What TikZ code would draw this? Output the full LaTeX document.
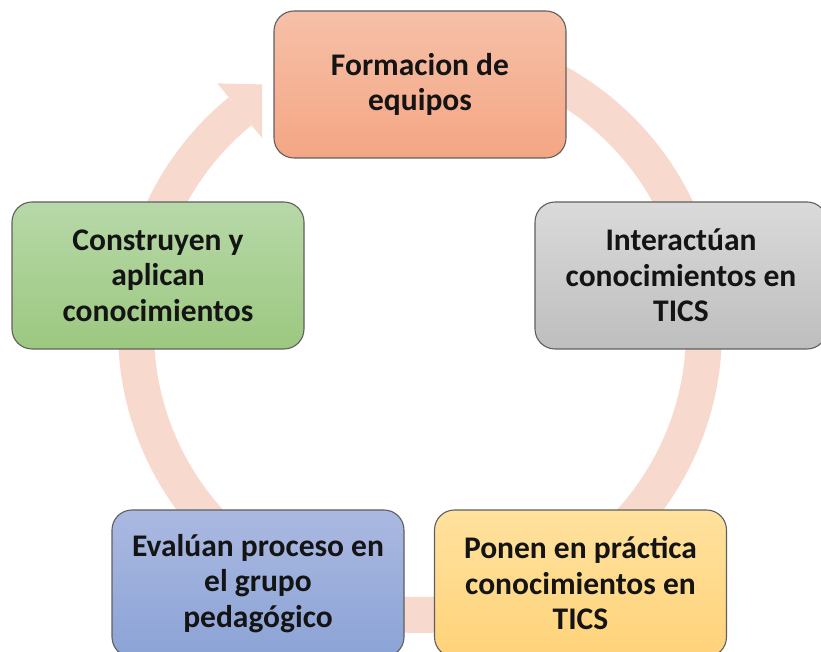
\documentclass[tikz,border=0pt]{standalone}
\usepackage{fontspec}
\setmainfont{Carlito}
\usetikzlibrary{calc}
\definecolor{ink}{RGB}{20,20,20}
\definecolor{edge}{RGB}{95,95,95}
\definecolor{ringpink}{RGB}{248,217,206}
\definecolor{orangetop}{RGB}{246,192,168}
\definecolor{orangebot}{RGB}{244,166,132}
\definecolor{greytop}{RGB}{218,218,218}
\definecolor{greybot}{RGB}{190,190,190}
\definecolor{greentop}{RGB}{183,216,168}
\definecolor{greenbot}{RGB}{156,200,128}
\definecolor{bluetop}{RGB}{171,185,225}
\definecolor{bluebot}{RGB}{139,163,214}
\definecolor{yellowtop}{RGB}{255,226,158}
\definecolor{yellowbot}{RGB}{255,210,122}
\tikzset{
  every picture/.style={x=1pt, y=1pt},
  box/.style={draw=edge, line width=1.1pt, rounded corners=20pt, minimum width=292pt,
    minimum height=147pt, align=center, text=ink, inner sep=0pt,
    font=\fontsize{31.5}{35.5}\selectfont\bfseries},
  fase/.style 2 args={box, top color=#1, bottom color=#2},
  ring/.style={draw=ringpink, line width=36pt},
  ringhead/.style={fill=ringpink, draw=none},
}

\begin{document}
\begin{tikzpicture}
  \useasboundingbox (0,0) rectangle (821,652);
  % the pale ring runs clockwise behind the boxes and ends in an arrow
  % pointing at the first step
  \coordinate (mid) at (420,321);
  \draw[ring] ($(mid)+(90:284)$) arc[start angle=90, end angle=-230.7, radius=284];
  \begin{scope}
    \clip (0,0) rectangle (262,652);
    \fill[ringhead] ($(mid)+(129.3:320)$) -- ($(mid)+(129.3:284)+(39.3:42)$)
      -- ($(mid)+(129.3:248)$) -- cycle;
  \end{scope}
  \node[fase={orangetop}{orangebot}] (form) at (420,567.5) {Formacion de\\equipos};
  \node[fase={greytop}{greybot}] (inter) at (681,376.5) {Interactúan\\conocimientos en\\TICS};
  \node[fase={yellowtop}{yellowbot}] (practica) at (580.5,68.5) {Ponen en práctica\\conocimientos en\\TICS};
  \node[fase={bluetop}{bluebot}] (evalua) at (258,68.5) {Evalúan proceso en\\el grupo\\pedagógico};
  \node[fase={greentop}{greenbot}] (construye) at (158,376.5) {Construyen y\\aplican\\conocimientos};
\end{tikzpicture}
\end{document}
